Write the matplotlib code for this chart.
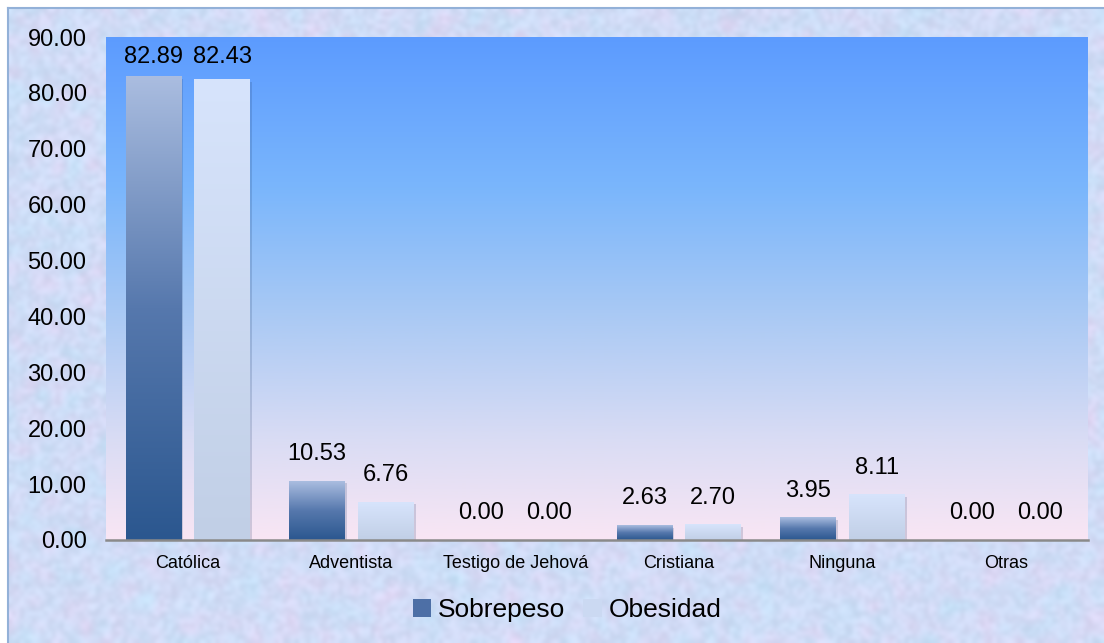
import numpy as np
import matplotlib
matplotlib.use("Agg")
import matplotlib.pyplot as plt
from matplotlib.colors import LinearSegmentedColormap
from matplotlib.patches import Rectangle

plt.rcParams['font.family'] = ['Liberation Sans', 'DejaVu Sans']

# datos: porcentaje por religión
categorias = ['Católica', 'Adventista', 'Testigo de Jehová', 'Cristiana', 'Ninguna', 'Otras']
sobrepeso = [82.89, 10.53, 0.00, 2.63, 3.95, 0.00]
obesidad = [82.43, 6.76, 0.00, 2.70, 8.11, 0.00]
yticks = np.arange(0, 100, 10)

W, H = 1104, 643
fig = plt.figure(figsize=(W / 100, H / 100), dpi=100)
fig.patch.set_facecolor('white')

# fondo con textura suave (papel)
bg = fig.add_axes([8 / W, 0, 1 - 8 / W, 1 - 8 / H], zorder=0)
rng = np.random.default_rng(7)


def suave(n_y, n_x, k):
    z = rng.random((n_y, n_x))
    for _ in range(k):
        z = (z + np.roll(z, 1, 0) + np.roll(z, -1, 0) + np.roll(z, 1, 1) + np.roll(z, -1, 1)) / 5
    return (z - z.min()) / (z.max() - z.min())


a = suave(160, 275, 3)
b = suave(160, 275, 6)
base = np.array([0.80, 0.87, 0.97])
lila = np.array([0.93, 0.82, 0.95])
cian = np.array([0.72, 0.90, 0.98])
tex = base[None, None, :] * (1 - b[..., None]) + lila[None, None, :] * b[..., None]
tex = tex * (1 - 0.6 * a[..., None]) + cian[None, None, :] * 0.6 * a[..., None]
tex = tex - 0.08 * (rng.random((160, 275, 1)) - 0.5)
bg.imshow(np.clip(tex, 0, 1), aspect='auto', extent=[0, 1, 0, 1], interpolation='bicubic')
bg.set_xlim(0, 1)
bg.set_ylim(0, 1)
bg.axis('off')
fig.add_artist(plt.Line2D([8 / W, 8 / W], [0, 1 - 8 / H], color='#93b1d8', lw=1.5))
fig.add_artist(plt.Line2D([8 / W, 1], [1 - 8 / H, 1 - 8 / H], color='#93b1d8', lw=1.5))

ax = fig.add_axes([106 / W, 1 - 540 / H, (1088 - 106) / W, (540 - 37) / H], zorder=1)
ax.set_xlim(-0.5, len(categorias) - 0.5)
ax.set_ylim(0, 90)

# degradado del área de trazado
area = LinearSegmentedColormap.from_list('area', [
    (0.0, '#f9e6f4'), (0.2, '#d9dcf4'), (0.45, '#a9c9f4'), (0.7, '#7ab6fc'), (1.0, '#5c9bff')])
grad = np.linspace(0, 1, 256)[:, None]
ax.imshow(grad, cmap=area, origin='lower', aspect='auto',
          extent=[-0.5, len(categorias) - 0.5, 0, 90], zorder=0)

cm_sob = LinearSegmentedColormap.from_list('sob', ['#2b578f', '#5678ad', '#aabde0'])
cm_obe = LinearSegmentedColormap.from_list('obe', ['#c1cfe6', '#d7e4fc'])

ancho = 0.34
desp = 0.21
x = np.arange(len(categorias))


def barra(xc, v, cmap):
    if v <= 0:
        return
    x0, x1 = xc - ancho / 2, xc + ancho / 2
    # sombra ligera
    ax.add_patch(Rectangle((x0 + 0.012, -0.4), ancho, v, facecolor='#1f3a66',
                           alpha=0.18, lw=0, zorder=1))
    ax.imshow(grad, cmap=cmap, origin='lower', aspect='auto',
              extent=[x0, x1, 0, v], zorder=2)


for i in range(len(categorias)):
    barra(x[i] - desp, sobrepeso[i], cm_sob)
    barra(x[i] + desp, obesidad[i], cm_obe)


# etiquetas de valor
def etiqueta(xc, v):
    yb = min(v + 2.86, 84.45)
    ax.text(xc, yb, f'{v:.2f}', ha='center', va='bottom', fontsize=17, color='black', zorder=4)


for i in range(len(categorias)):
    etiqueta(x[i] - desp, sobrepeso[i])
    etiqueta(x[i] + desp, obesidad[i])

ax.set_xlim(-0.5, len(categorias) - 0.5)
ax.set_ylim(0, 90)
ax.set_yticks(yticks)
ax.set_yticklabels([f'{t:.2f}' for t in yticks], fontsize=17)
ax.set_xticks(x)
ax.set_xticklabels(categorias, fontsize=13)
ax.tick_params(axis='y', length=0, pad=14)
ax.tick_params(axis='x', length=0, pad=11)
for s in ['top', 'right', 'left']:
    ax.spines[s].set_visible(False)
ax.spines['bottom'].set_color('#8a8a8a')
ax.spines['bottom'].set_linewidth(1.8)
ax.spines['bottom'].set_zorder(5)

# leyenda
h1 = Rectangle((0, 0), 1, 1, facecolor='#4d6fa6', lw=0)
h2 = Rectangle((0, 0), 1, 1, facecolor='#cbd9f2', lw=0)
fig.legend([h1, h2], ['Sobrepeso', 'Obesidad'], loc='center',
           bbox_to_anchor=(567 / W, 1 - 610 / H), ncol=2, frameon=False,
           fontsize=19, handlelength=0.7, handleheight=0.7, handletextpad=0.25,
           columnspacing=0.7)

fig.savefig('out.png', dpi=100)
